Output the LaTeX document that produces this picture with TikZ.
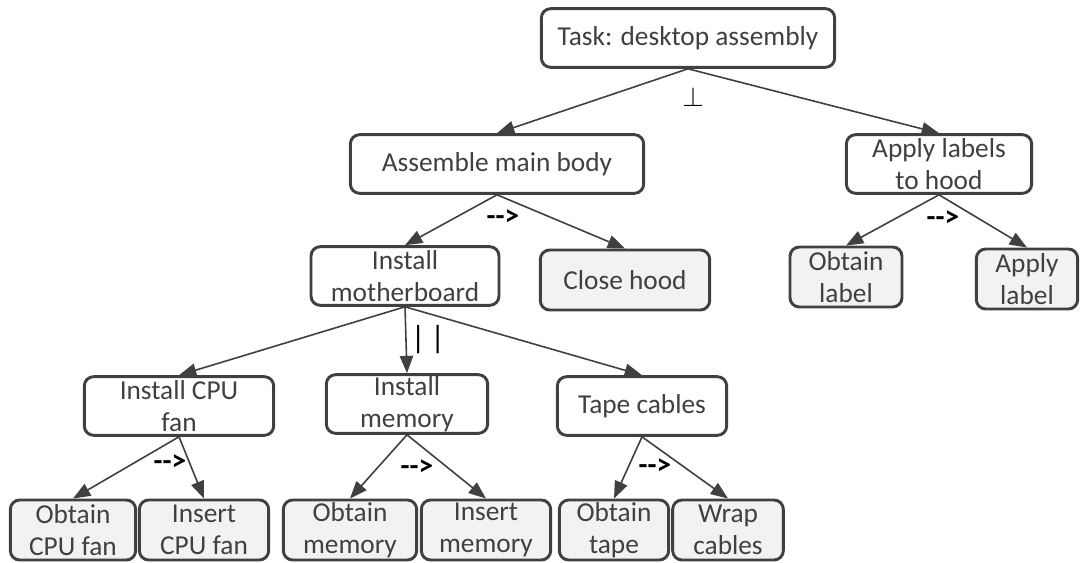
\documentclass[tikz,border=0pt]{standalone}
\usepackage{fontspec}
\setmainfont{Carlito}
\usetikzlibrary{arrows.meta}
\definecolor{boxline}{HTML}{404040}
\definecolor{leaffill}{HTML}{F2F2F2}
\begin{document}
\begin{tikzpicture}[x=0.75pt, y=-0.75pt,
    taskbox/.style={rectangle, rounded corners=7pt, draw=boxline, line width=2.2pt, fill=white, text=boxline, align=center, font=\fontsize{20.5}{24}\selectfont, inner xsep=3pt, inner ysep=0pt, minimum height=44pt},
    leafbox/.style={taskbox, fill=leaffill, minimum height=45pt},
    link/.style={draw=boxline, line width=1.2pt, -{Triangle[length=13pt,width=10pt]}},
    ordermark/.style={font=\bfseries\fontsize{22}{24}\selectfont, inner sep=0pt}]
    \useasboundingbox (0,0) rectangle (1081,563);

    % Task
    \node[taskbox, minimum width=220pt] (task) at (688,38) {Task: desktop assembly};

    % Main body
    \node[taskbox, minimum width=220pt] (main) at (497,164) {Assemble main body};
    \node[taskbox, minimum width=141pt] (mobo) at (405,276) {Install\\motherboard};
    \node[leafbox, minimum width=127pt] (close) at (625,280) {Close hood};

    % Labels
    \node[taskbox, minimum width=139pt] (hood) at (939,164) {Apply labels\\to hood};
    \node[leafbox, minimum width=84pt] (oblabel) at (846,277) {Obtain\\label};
    \node[leafbox, minimum width=76pt] (aplabel) at (1027,279) {Apply\\label};

    % Motherboard parts
    \node[taskbox, minimum width=142pt] (cpufan) at (179,406) {Install CPU\\fan};
    \node[taskbox, minimum width=121pt] (memory) at (407,404) {Install\\memory};
    \node[taskbox, minimum width=127pt] (tape) at (642,406) {Tape cables};

    % Leaves
    \node[leafbox, minimum width=94pt] (obfan) at (73,530) {Obtain\\CPU fan};
    \node[leafbox, minimum width=97pt] (infan) at (204,530) {Insert\\CPU fan};
    \node[leafbox, minimum width=100pt] (obmem) at (350,530) {Obtain\\memory};
    \node[leafbox, minimum width=97pt] (inmem) at (486,530) {Insert\\memory};
    \node[leafbox, minimum width=82pt] (obtape) at (614,530) {Obtain\\tape};
    \node[leafbox, minimum width=83pt] (wrap) at (728,530) {Wrap\\cables};

    % Order marks
    \node[font=\fontsize{21}{24}\selectfont, inner sep=0pt] (perp) at (693,97) {$\perp$};
    \node[ordermark] (seqmain) at (503,218) {-\kern0pt-\kern0pt>};
    \node[ordermark] (seqhood) at (943,219) {-\kern0pt-\kern0pt>};
    \node[font=\fontsize{24}{26}\selectfont, inner sep=0pt] (par) at (428,340) {|\hspace{0.15em}|};
    \node[ordermark] (seqfan) at (170,463) {-\kern0pt-\kern0pt>};
    \node[ordermark] (seqmem) at (417,468) {-\kern0pt-\kern0pt>};
    \node[ordermark] (seqtape) at (655,467) {-\kern0pt-\kern0pt>};

    % Connections
    \draw[link] (task.south) -- (main.north);
    \draw[link] (task.south) -- (hood.north);
    \draw[link] (main.south) -- (mobo.north);
    \draw[link] (main.south) -- (close.north);
    \draw[link] (hood.south) -- (oblabel.north);
    \draw[link] (hood.south) -- (aplabel.north);
    \draw[link] (mobo.south) -- (cpufan.north);
    \draw[link] (mobo.south) -- (memory.north);
    \draw[link] (mobo.south) -- (tape.north);
    \draw[link] (cpufan.south) -- (obfan.north);
    \draw[link] (cpufan.south) -- (infan.north);
    \draw[link] (memory.south) -- (obmem.north);
    \draw[link] (memory.south) -- (inmem.north);
    \draw[link] (tape.south) -- (obtape.north);
    \draw[link] (tape.south) -- (wrap.north);
\end{tikzpicture}
\end{document}
